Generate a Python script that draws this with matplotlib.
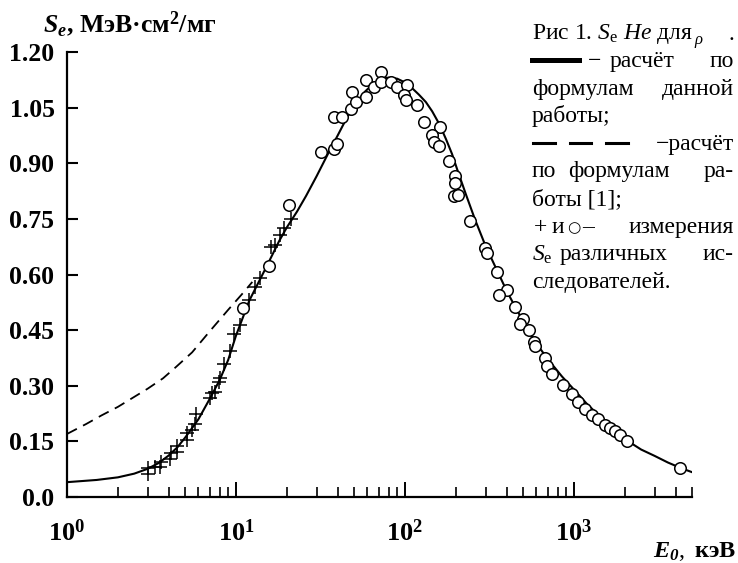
import matplotlib
matplotlib.use("Agg")
import matplotlib.pyplot as plt
from matplotlib.ticker import FixedLocator, FixedFormatter, LogLocator, NullFormatter
from matplotlib.lines import Line2D

plt.rcParams['font.family'] = ['Liberation Serif', 'DejaVu Sans']
plt.rcParams['mathtext.fontset'] = 'custom'
plt.rcParams['mathtext.rm'] = 'Liberation Serif'
plt.rcParams['mathtext.it'] = 'Liberation Serif:italic'
plt.rcParams['mathtext.bf'] = 'Liberation Serif:bold'
plt.rcParams['mathtext.bfit'] = 'Liberation Serif:bold:italic'
plt.rcParams['lines.scale_dashes'] = False

# calculation by the formulas of this work (solid)
calc_E = [1, 1.5, 2, 2.5, 3, 3.5, 4, 4.5, 5, 5.5, 6, 7, 8, 9, 10, 12, 15, 18, 20,
          23, 26, 30, 35, 40, 45, 50, 58, 65, 72, 80, 90, 100, 110, 121, 133, 145,
          160, 175, 190, 205, 230, 260, 300, 350, 400, 450, 540, 620, 700, 850,
          1000, 1200, 1460, 1750, 2100, 2500, 3000, 3600, 4300, 5000]
calc_S = [0.040, 0.046, 0.053, 0.063, 0.076, 0.092, 0.112, 0.134, 0.160, 0.186,
          0.210, 0.265, 0.315, 0.370, 0.435, 0.530, 0.617, 0.690, 0.727, 0.770,
          0.812, 0.865, 0.925, 0.975, 1.020, 1.055, 1.093, 1.115, 1.127, 1.131,
          1.128, 1.118, 1.103, 1.085, 1.065, 1.040, 1.005, 0.965, 0.925, 0.880,
          0.815, 0.748, 0.677, 0.612, 0.556, 0.512, 0.447, 0.405, 0.372, 0.325,
          0.290, 0.250, 0.213, 0.180, 0.150, 0.128, 0.111, 0.093, 0.078, 0.067]

# calculation by the formulas of work [1] (dashed)
ref_E = [1, 1.3, 1.6, 2, 2.5, 3, 3.7, 4.4, 5.5, 7, 9, 11, 12.5]
ref_S = [0.170, 0.197, 0.220, 0.243, 0.270, 0.292, 0.320, 0.350, 0.390, 0.447,
         0.505, 0.550, 0.580]

# measurements: crosses
cross_E = [3.0, 3.0, 3.3, 3.54, 3.6, 4.05, 4.1, 4.46, 4.5, 5.1, 5.1, 5.5, 5.84,
           5.7, 6.98, 7.25, 7.5, 7.9, 8.0, 8.5, 9.2, 9.8, 10.5, 12.0, 12.9, 13.8,
           16.1, 17.0, 18.1, 19.3, 21.2]
cross_S = [0.063, 0.077, 0.082, 0.082, 0.095, 0.103, 0.118, 0.122, 0.138, 0.155,
           0.172, 0.180, 0.223, 0.196, 0.267, 0.280, 0.282, 0.310, 0.322, 0.360,
           0.395, 0.440, 0.465, 0.532, 0.565, 0.590, 0.675, 0.680, 0.707, 0.725,
           0.750]

# measurements: circles
circ_E = [11.0, 15.6, 20.6, 31.8, 38, 39.8, 38, 42.6, 47.9, 48.9, 51.4, 58.6,
          58.6, 65.6, 71.9, 71.9, 82.4, 90.2, 103, 99, 101, 118, 129, 162, 145,
          148, 159, 182, 199, 199, 194, 205, 244, 299, 304, 351, 402, 358, 450,
          503, 481, 539, 577, 590, 676, 692, 740, 867, 971, 1064, 1165, 1275,
          1396, 1528, 1634, 1749, 1872, 2050, 4230]
circ_S = [0.509, 0.623, 0.788, 0.929, 0.938, 0.952, 1.025, 1.025, 1.047, 1.093,
          1.065, 1.079, 1.124, 1.106, 1.147, 1.120, 1.120, 1.106, 1.110, 1.083,
          1.070, 1.056, 1.011, 0.997, 0.975, 0.957, 0.947, 0.907, 0.866, 0.848,
          0.811, 0.815, 0.743, 0.671, 0.657, 0.607, 0.558, 0.544, 0.512, 0.481,
          0.467, 0.449, 0.417, 0.408, 0.376, 0.354, 0.331, 0.302, 0.279, 0.256,
          0.236, 0.222, 0.209, 0.195, 0.186, 0.177, 0.168, 0.150, 0.077]

y_ticks = [0.0, 0.15, 0.30, 0.45, 0.60, 0.75, 0.90, 1.05, 1.20]
y_labels = ['0.0', '0.15', '0.30', '0.45', '0.60', '0.75', '0.90', '1.05', '1.20']
x_ticks = [1, 10, 100, 1000]
x_labels = [r'$\mathbf{10^{0}}$', r'$\mathbf{10^{1}}$', r'$\mathbf{10^{2}}$',
            r'$\mathbf{10^{3}}$']

W, H = 738, 563
fig = plt.figure(figsize=(W / 100, H / 100), dpi=100)
ax = fig.add_axes([67 / W, 1 - 497 / H, (692 - 67) / W, (497 - 52) / H])

ax.plot(calc_E, calc_S, color='black', lw=1.5, zorder=3)
ax.plot(ref_E, ref_S, color='black', lw=1.3, dashes=(8, 5), zorder=3)
ax.plot(cross_E, cross_S, ls='none', marker='+', ms=9.5, mew=1.1, color='black', zorder=4)
ax.plot(circ_E, circ_S, ls='none', marker='o', ms=8.3, mew=1.1, mfc='white',
        mec='black', zorder=5)

ax.set_xscale('log')
ax.set_xlim(1, 5000)
ax.set_ylim(0, 1.2)
for s in ('top', 'right'):
    ax.spines[s].set_visible(False)
for s in ('left', 'bottom'):
    ax.spines[s].set_linewidth(1.6)

ax.yaxis.set_major_locator(FixedLocator(y_ticks))
ax.yaxis.set_major_formatter(FixedFormatter(y_labels))
ax.xaxis.set_major_locator(FixedLocator(x_ticks))
ax.xaxis.set_major_formatter(FixedFormatter(x_labels))
ax.xaxis.set_minor_locator(LogLocator(base=10, subs=range(2, 10)))
ax.xaxis.set_minor_formatter(NullFormatter())
ax.tick_params(axis='y', direction='in', length=8, width=1.5, pad=9,
               labelsize=18.5)
ax.tick_params(axis='x', which='major', direction='in', length=11, width=1.4,
               pad=16, labelsize=19)
ax.tick_params(axis='x', which='minor', direction='in', length=7, width=1.2)
for lab in ax.get_yticklabels():
    lab.set_fontweight('bold')
ax.set_facecolor('none')


def put(x, base, s, **kw):
    kw.setdefault('fontsize', 17)
    return fig.text(x / W, 1 - base / H, s, va='baseline', **kw)


# axis titles
put(43, 32, r'$\mathbfit{S_e}$, МэВ·см$^\mathbf{2}$/мг', fontweight='bold', fontsize=18.5)
put(736, 557, r'$\mathbfit{E_0},$ кэВ', fontweight='bold', fontsize=17.5, ha='right')

# caption block
b = [39.5 + 27.6 * i for i in range(10)]
L, R = 532, 734
put(L, b[0], r'Рис 1. $S_\mathrm{e}$ $He$ для')
put(694, b[0] + 5, r'$\rho$', fontsize=12)
put(R, b[0], '.', ha='right')

fig.add_artist(Line2D([L / W, 579 / W], [1 - 59.5 / H] * 2, color='black', lw=3.6))
put(588, b[1], '−')
put(610, b[1], 'расчёт')
put(R, b[1], 'по', ha='right')

put(L, b[2], 'формулам')
put(R, b[2], 'данной', ha='right')

put(L, b[3], 'работы;')

for x0, x1 in [(533, 555), (570, 591), (606, 628)]:
    fig.add_artist(Line2D([x0 / W, x1 / W], [1 - 143.3 / H] * 2, color='black', lw=2.2))
put(R, b[4], '−расчёт', ha='right')

put(L, b[5], 'по')
put(568, b[5], 'формулам')
put(R, b[5], 'ра-', ha='right')

put(L, b[6], 'боты [1];')

put(534, b[7], '+')
put(552, b[7], 'и')
put(567, b[7] - 1, '○', fontsize=11, family='DejaVu Sans')
put(582, b[7], '–')
put(R, b[7], 'измерения', ha='right')

put(L, b[8], r'$S_\mathrm{e}$')
put(560, b[8], 'различных')
put(R, b[8], 'ис-', ha='right')

put(L, b[9], 'следователей.')

fig.savefig('out.png', dpi=100, facecolor='white')
